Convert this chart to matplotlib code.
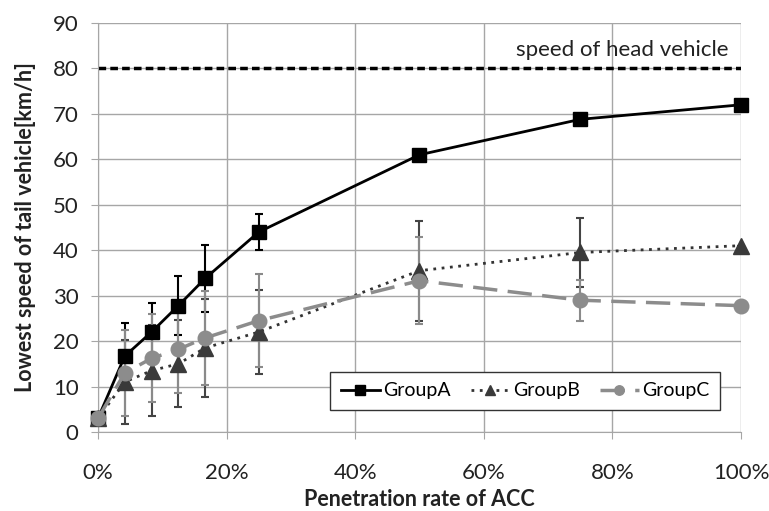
import numpy as np
import matplotlib
matplotlib.use('Agg')
import matplotlib.pyplot as plt
from matplotlib.ticker import PercentFormatter

plt.rcParams['font.family'] = ['Lato', 'DejaVu Sans']

# 보급률(%) 과 그룹별 최저속도
rate = [0, 4.17, 8.33, 12.5, 16.67, 25, 50, 75, 100]
group_a = [3, 16.7, 22, 27.8, 33.8, 44, 61, 68.8, 72]
group_b = [3, 11, 13.5, 15, 18.5, 22, 35.5, 39.5, 41]
group_c = [3, 13, 16.2, 18.2, 20.7, 24.5, 33.3, 29, 27.8]
err_a = [0, 7.3, 6.3, 6.5, 7.3, 3.9, 0, 0, 0]
err_b = [0, 9.2, 10, 9.6, 10.7, 9.3, 11, 7.5, 0]
err_c = [0, 9.5, 9.7, 9.7, 10.4, 10.2, 9.5, 4.5, 0]
head_speed = 80

fig = plt.figure(figsize=(7.69, 5.11), dpi=100)
ax = fig.add_axes([0.1274, 0.1546, 0.8362, 0.8004])

# 기준선
ax.axhline(head_speed, color='black', lw=2.5, ls=(0, (2.2, 1.2)), zorder=2)
ax.text(98, head_speed + 1.8, 'speed of head vehicle', ha='right', va='bottom',
        fontsize=16, color='#222222')

# 에러바
ax.errorbar(rate, group_a, yerr=err_a, fmt='none', ecolor='black', elinewidth=1.5, capsize=3, capthick=1.5, zorder=3)
ax.errorbar(rate, group_b, yerr=err_b, fmt='none', ecolor='#444444', elinewidth=1.5, capsize=3, capthick=1.5, zorder=3)
ax.errorbar(rate, group_c, yerr=err_c, fmt='none', ecolor='#8a8a8a', elinewidth=1.5, capsize=3, capthick=1.5, zorder=3)

ax.plot(rate, group_a, color='black', lw=2, marker='s', ms=10.5, label='GroupA', zorder=4, clip_on=False)
ax.plot(rate, group_b, color='#333333', lw=2, ls=(0, (1, 2)), marker='^', ms=11,
        markerfacecolor='#3a3a3a', markeredgecolor='#3a3a3a', label='GroupB', zorder=4, clip_on=False)
ax.plot(rate, group_c, color='#8c8c8c', lw=2.5, ls=(0, (7, 3)), marker='o', ms=10.5,
        markerfacecolor='#8c8c8c', markeredgecolor='#8c8c8c', label='GroupC', zorder=5, clip_on=False)

ax.set_xlim(0, 100)
ax.set_ylim(0, 90)
ax.set_xticks(np.arange(0, 101, 20))
ax.set_yticks(np.arange(0, 91, 10))
ax.xaxis.set_major_formatter(PercentFormatter(decimals=0))
ax.grid(True, color='#a6a6a6', lw=1)
ax.set_axisbelow(True)
for s in ['top', 'right']:
    ax.spines[s].set_visible(False)
for s in ['left', 'bottom']:
    ax.spines[s].set_color('#a6a6a6')
ax.tick_params(labelsize=16, colors='#a6a6a6', labelcolor='#222222', length=5)
ax.tick_params(axis='x', pad=17)
ax.tick_params(axis='y', pad=9)

ax.set_xlabel('Penetration rate of ACC', fontsize=15.5, fontweight='bold', color='#222222', labelpad=5)
ax.set_ylabel('Lowest speed of tail vehicle[km/h]', fontsize=15.5, fontweight='bold', color='#222222', labelpad=12)

leg = ax.legend(loc='lower right', bbox_to_anchor=(0.983, 0.03), ncol=3, fontsize=14,
                fancybox=False, framealpha=1, edgecolor='#333333', handlelength=2.0,
                markerscale=0.65, columnspacing=1.0, handletextpad=0.2, borderpad=0.55)
leg.get_frame().set_linewidth(1)

plt.savefig('out.png', dpi=100)
